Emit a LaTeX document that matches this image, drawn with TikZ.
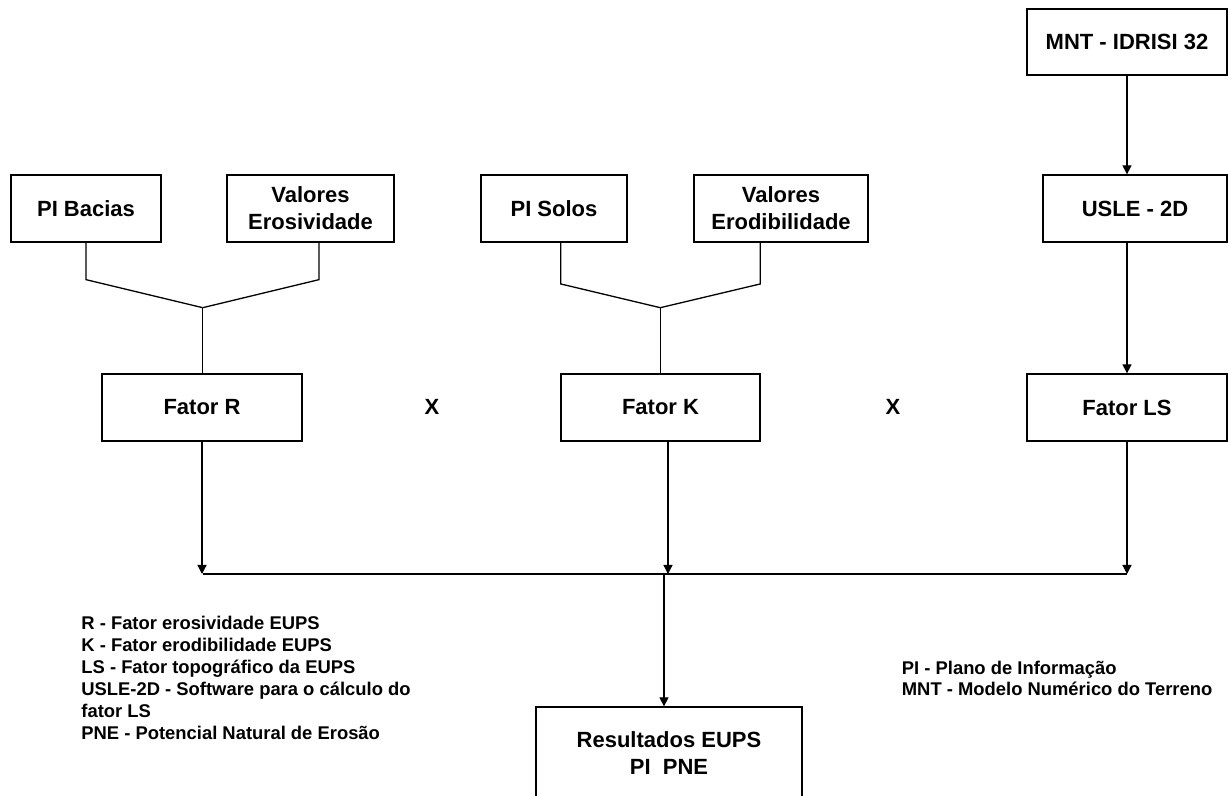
\documentclass[tikz,border=0pt]{standalone}
\usepackage{fontspec}
\setmainfont{Liberation Sans}
\usetikzlibrary{arrows.meta}
\begin{document}
\begin{tikzpicture}[x=0.5pt,y=-0.5pt,
  box/.style={draw, line width=0.65pt, minimum height=33.5pt, inner sep=0pt,
    align=center, font=\fontsize{11}{13.4}\selectfont\bfseries},
  link/.style={line width=0.65pt},
  flow/.style={line width=0.65pt, -{Triangle[length=4.5pt,width=4.5pt]}},
  mult/.style={inner sep=0pt, font=\fontsize{11}{13.4}\selectfont\bfseries},
  legend/.style={anchor=north west, inner sep=0pt, align=left,
    font=\fontsize{9.2}{11}\selectfont\bfseries}]
\useasboundingbox (0,0) rectangle (1228,796);
\clip (0,0) rectangle (1228,796);

% input layers
\node[box, minimum width=100pt, minimum height=33pt] (mnt) at (1127,42) {MNT - IDRISI 32};
\node[box, minimum width=92pt]  (usle)   at (1135,208.5) {USLE - 2D};
\node[box, minimum width=75pt]  (bacias) at (86,208.5)   {PI Bacias};
\node[box, minimum width=83.5pt] (eros)  at (310.5,208.5) {Valores\\Erosividade};
\node[box, minimum width=73pt]  (solos)  at (554,208.5)  {PI Solos};
\node[box, minimum width=87pt]  (erod)   at (781,208.5)  {Valores\\Erodibilidade};

% factors
\node[box, minimum width=100pt]  (fr) at (202,407.5)   {Fator R};
\node[box, minimum width=99.5pt] (fk) at (660.5,407.5) {Fator K};
\node[box, minimum width=100pt]  (ls) at (1127,407.5)  {Fator LS};
\node[mult] (x1) at (432,407) {X};
\node[mult] (x2) at (893,407) {X};

% result
\node[box, minimum width=133pt, minimum height=46pt] (res) at (669,753) {Resultados EUPS\\PI\ \ PNE};

% joins into factor R
\coordinate (jR) at (202.7,307.7);
\draw[link] (bacias.south) -- ++(0,37) -- (jR);
\draw[link] ([xshift=4.25pt]eros.south) -- ++(0,37) -- (jR);
\draw[link] (jR) -- (jR |- fr.north);

% joins into factor K
\coordinate (jK) at (660.3,307.7);
\draw[link] ([xshift=3.35pt]solos.south) -- ++(0,41.3) -- (jK);
\draw[link] ([xshift=-10.35pt]erod.south) -- ++(0,41.3) -- (jK);
\draw[link] (jK) -- (jK |- fk.north);

% terrain chain
\draw[flow] (mnt.south) -- (mnt.south |- usle.north);
\draw[flow] (mnt.south |- usle.south) -- (ls.north);

% collector bus
\coordinate (busL) at (202.7,574);
\coordinate (busR) at (1126.7,574);
\coordinate (kDrop) at ([xshift=3.75pt]fk.south);
\coordinate (resIn) at (664,574);
\draw[flow] (fr.south) -- (fr.south |- busL);
\draw[flow] (kDrop) -- (kDrop |- busL);
\draw[flow] (ls.south) -- (ls.south |- busR);
\draw[link] (busL) -- (busR);
\draw[flow] (resIn) -- (resIn |- res.north);

% legends
\node[legend] (legL) at (81,616) {R - Fator erosividade EUPS\\
K - Fator erodibilidade EUPS\\
LS - Fator topográfico da EUPS\\
USLE-2D - Software para o cálculo do\\
fator LS\\
PNE - Potencial Natural de Erosão};
\node[legend, font=\fontsize{9.2}{10.5}\selectfont\bfseries] (legR) at (901.5,661)
  {PI - Plano de Informação\\MNT - Modelo Numérico do Terreno};
\end{tikzpicture}
\end{document}
